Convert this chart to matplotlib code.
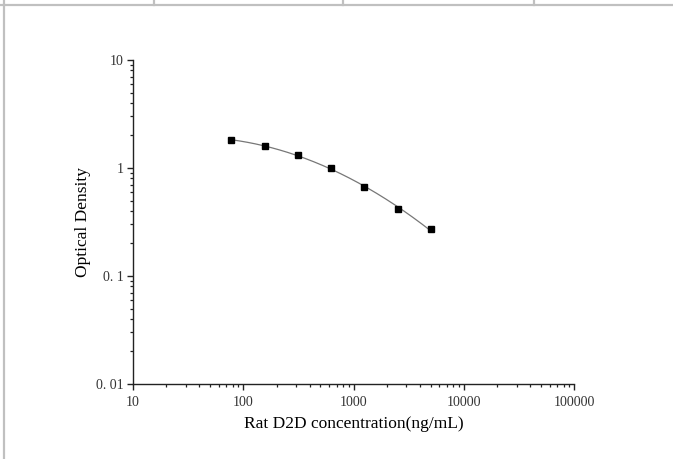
import numpy as np
import matplotlib
matplotlib.use('Agg')
import matplotlib.pyplot as plt
from matplotlib.lines import Line2D
from matplotlib.ticker import LogLocator, FixedLocator, FixedFormatter, NullFormatter

plt.rcParams['font.family'] = ['Liberation Serif', 'DejaVu Serif']

conc = [78.125, 156.25, 312.5, 625, 1250, 2500, 5000]
od = [1.80, 1.61, 1.32, 0.99, 0.67, 0.42, 0.27]

x_ticks = [10, 100, 1000, 10000, 100000]
x_labels = ['10', '100', '1000', '10000', '100000']
y_ticks = [0.01, 0.1, 1, 10]
y_labels = ['0. 01', '0. 1', '1', '10']

fig = plt.figure(figsize=(6.73, 4.59), dpi=100)
ax = fig.add_axes([0.1976, 0.1634, 0.6557, 0.7059])

# smooth fit line through the standards (quadratic in log-log space)
lx = np.log10(conc)
ly = np.log10(od)
coef = np.polyfit(lx, ly, 2)
xs = np.linspace(lx[0], lx[-1], 200)
ax.plot(10 ** xs, 10 ** np.polyval(coef, xs), color='#777777', lw=0.9, zorder=2)
ax.plot(conc, od, 's', color='black', markersize=5, zorder=3)

ax.set_xscale('log')
ax.set_yscale('log')
ax.set_xlim(10, 100000)
ax.set_ylim(0.01, 10)

ax.xaxis.set_major_locator(FixedLocator(x_ticks))
ax.xaxis.set_major_formatter(FixedFormatter(x_labels))
ax.yaxis.set_major_locator(FixedLocator(y_ticks))
ax.yaxis.set_major_formatter(FixedFormatter(y_labels))
ax.xaxis.set_minor_locator(LogLocator(base=10, subs=np.arange(2, 10), numticks=20))
ax.yaxis.set_minor_locator(LogLocator(base=10, subs=np.arange(2, 10), numticks=20))
ax.xaxis.set_minor_formatter(NullFormatter())
ax.yaxis.set_minor_formatter(NullFormatter())

for s in ['top', 'right']:
    ax.spines[s].set_visible(False)
for s in ['left', 'bottom']:
    ax.spines[s].set_linewidth(1.0)
    ax.spines[s].set_color('#222222')

ax.tick_params(which='major', direction='out', length=4, width=1.0, color='#222222',
               labelsize=10, labelcolor='#333333', pad=3)
ax.tick_params(axis='x', which='major', pad=5)
ax.tick_params(which='minor', direction='out', length=2.5, width=0.9, color='#222222')

ax.set_xlabel('Rat D2D concentration(ng/mL)', fontsize=12.5, labelpad=5)
ax.set_ylabel('Optical Density', fontsize=12.5, labelpad=3)

# table frame around the picture
gc = '#c0c0c0'
W, H = 673.0, 459.0
fig.add_artist(Line2D([0, 1], [1 - 5 / H, 1 - 5 / H], color=gc, lw=1.6))
fig.add_artist(Line2D([4 / W, 4 / W], [0, 1], color=gc, lw=1.6))
for px in [154, 343, 534]:
    fig.add_artist(Line2D([px / W, px / W], [1 - 5 / H, 1], color=gc, lw=1.6))

fig.savefig('out.png', dpi=100)
